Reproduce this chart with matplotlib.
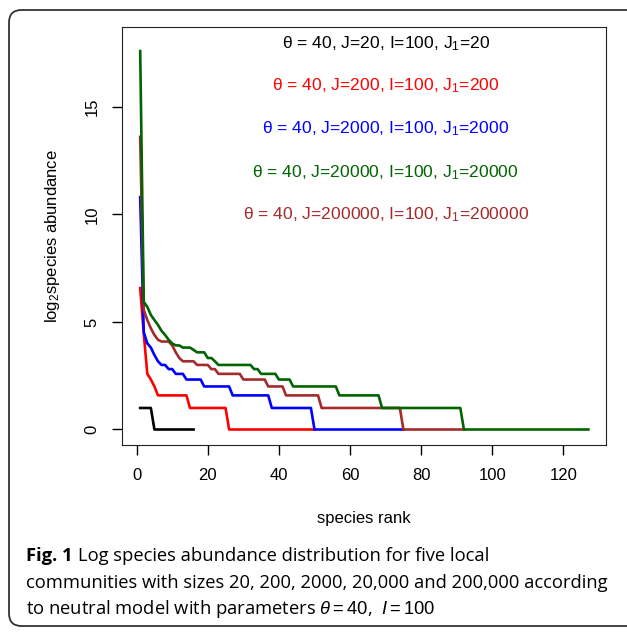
import matplotlib
matplotlib.use("Agg")
import matplotlib.pyplot as plt
from matplotlib.patches import FancyBboxPatch
import numpy as np

plt.rcParams['font.family'] = ['Liberation Sans', 'DejaVu Sans']
plt.rcParams['mathtext.fontset'] = 'custom'
plt.rcParams['mathtext.rm'] = 'Liberation Sans'
plt.rcParams['mathtext.it'] = 'Liberation Sans:italic'

# species abundances by rank
black = [2]*4 + [1]*12
red = [95, 22, 6, 5, 4] + [3]*9 + [2]*11 + [1]*25
blue = [1780, 23, 16, 14, 11, 9, 8, 8, 7, 7, 6, 6, 6] + [5]*5 + [4]*8 + [3]*11 + [2]*12 + [1]*26
brown = [12400, 47, 34, 26, 21, 18, 17, 17, 17, 15, 12, 10, 9, 9, 9, 9, 8, 8, 8, 8, 7, 7] \
    + [6]*7 + [5]*7 + [4]*5 + [3]*10 + [2]*23 + [1]*18
green = [197000, 61, 52, 40, 34, 29, 24, 21, 18, 16, 15, 15, 14, 14, 14, 13, 12, 12, 12, 10, 10, 9] \
    + [8]*10 + [7]*2 + [6]*5 + [5]*4 + [4]*13 + [3]*12 + [2]*23 + [1]*36

series = [black, red, blue, brown, green]
colors = ['black', '#FF0000', '#0000FF', '#A52A2A', '#006400']

labels = ['\u03b8 = 40, J=20, I=100, J$_1$=20',
          '\u03b8 = 40, J=200, I=100, J$_1$=200',
          '\u03b8 = 40, J=2000, I=100, J$_1$=2000',
          '\u03b8 = 40, J=20000, I=100, J$_1$=20000',
          '\u03b8 = 40, J=200000, I=100, J$_1$=200000']
label_colors = ['black', '#FF0000', '#0000FF', '#006400', '#A52A2A']
label_y = [17.95, 16, 14, 11.95, 10]

fig = plt.figure(figsize=(6.27, 6.32), dpi=100)
ax = fig.add_axes([0.195, 0.2959, 0.772, 0.6609])

for s, c in zip(series, colors):
    r = np.arange(1, len(s) + 1)
    ax.plot(r, np.log2(s), color=c, lw=1.9)

for t, c, y in zip(labels, label_colors, label_y):
    ax.text(70, y, t, color=c, fontsize=12.6, ha='center', va='center')

ax.set_xlim(-4.04, 132.04)
ax.set_ylim(-0.72, 18.69)
ax.set_xticks([0, 20, 40, 60, 80, 100, 120])
ax.set_yticks([0, 5, 10, 15])
ax.set_yticklabels(['0', '5', '10', '15'], rotation=90, va='center')
ax.tick_params(direction='out', length=7.5, width=1, labelsize=12, pad=9)
for sp in ax.spines.values():
    sp.set_color('#222222')
ax.set_xlabel('species rank', fontsize=12, labelpad=20)
ax.set_ylabel('log$_2$species abundance', fontsize=12, labelpad=16)

# rounded frame around the figure
frame = FancyBboxPatch((9/627, 6/632), 720/627, 616/632,
                       boxstyle='round,pad=0,rounding_size=0.02',
                       transform=fig.transFigure, fill=False,
                       ec='#333333', lw=1.3)
fig.patches.append(frame)

# caption
cap_font = ['Open Sans', 'DejaVu Sans']
fs = 13.2
t1 = fig.text(26/627, 1-556/632, 'Fig. 1', fontsize=fs, fontweight='bold',
              family=cap_font, va='center')
fig.canvas.draw()
bb = t1.get_window_extent()
fig.text(bb.x1/627 + 5/627, 1-556/632, 'Log species abundance distribution for five local',
         fontsize=fs, family=cap_font, va='center')
fig.text(26/627, 1-583/632, 'communities with sizes 20, 200, 2000, 20,000 and 200,000 according',
         fontsize=fs, family=cap_font, va='center')
fig.text(26/627, 1-609/632, 'to neutral model with parameters $\\theta = 40$,  $I = 100$',
         fontsize=fs, family=cap_font, va='center')

fig.savefig('out.png', dpi=100)
